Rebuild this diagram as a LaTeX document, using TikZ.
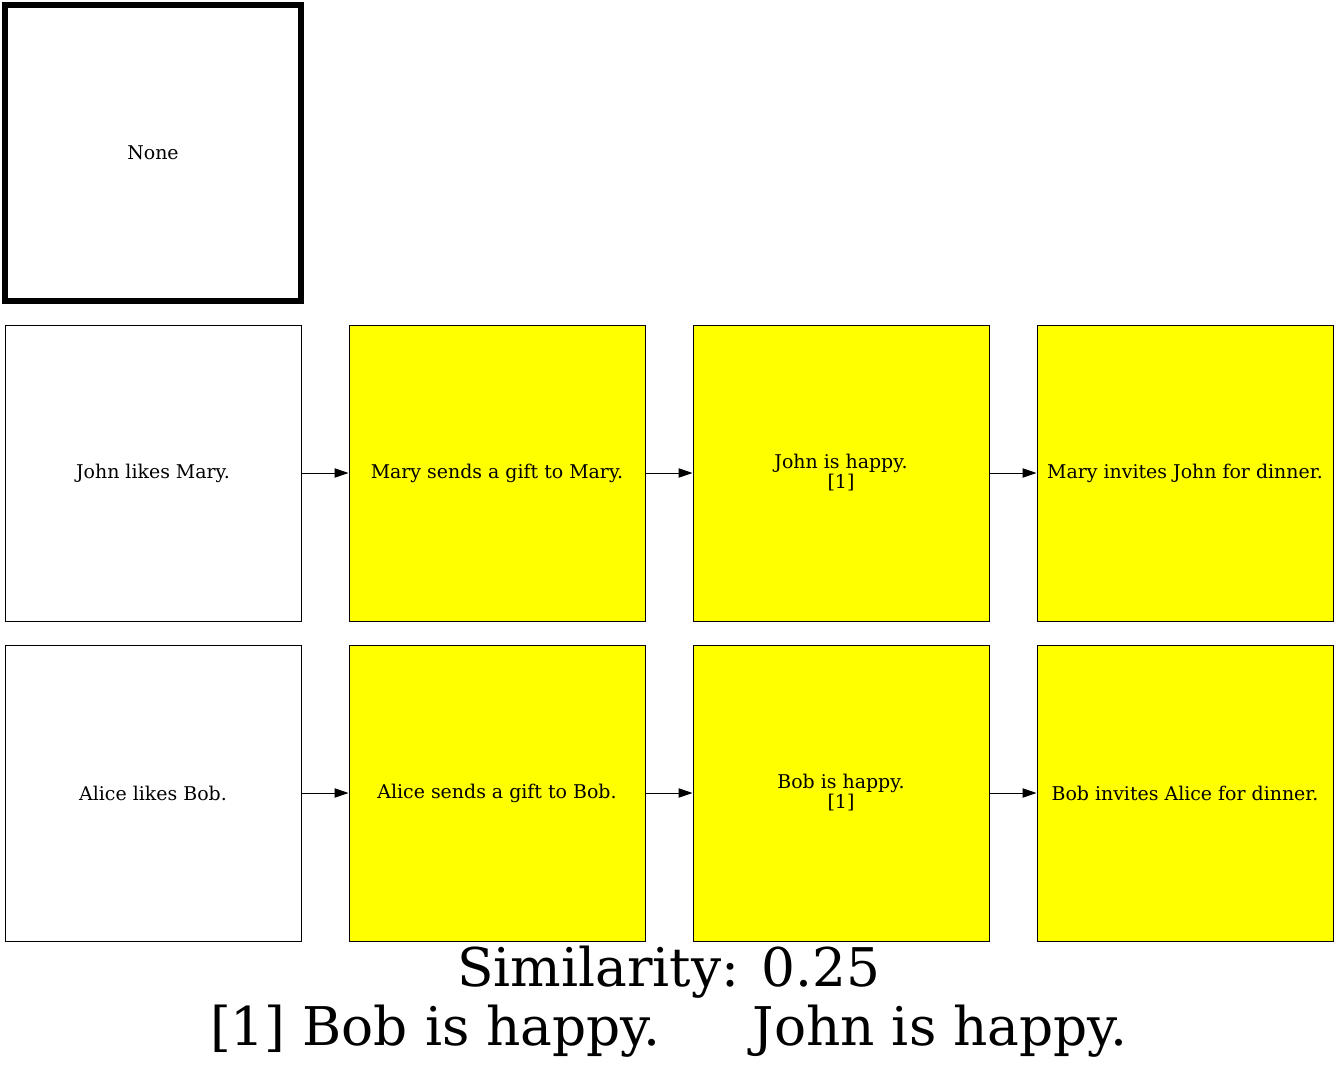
\documentclass[tikz,border=0pt]{standalone}
\usepackage{fontspec}
\setmainfont{DejaVu Serif}
\usetikzlibrary{arrows.meta}
\definecolor{gvyellow}{RGB}{255,255,0}
\begin{document}
\begin{tikzpicture}[x=0.75pt,y=-0.75pt]
		\tikzstyle{story}=[draw,line width=0.75pt,rectangle,minimum width=222pt,minimum height=222pt,inner sep=0pt,align=center,font=\fontsize{14.2}{15}\selectfont]
		\tikzstyle{changed}=[story,fill=gvyellow]
		\tikzstyle{link}=[line width=0.75pt,-{Triangle[length=10.5pt,width=7pt]}]
		\useasboundingbox (0,0) rectangle (1339,1075);

		\node[story,line width=4.5pt] (none) at (153,152.5) {None};

		\node[story] (1a) at (153,473) {John likes Mary.};
		\node[changed] (2a) at (497,473) {Mary sends a gift to Mary.};
		\node[changed] (3a) at (841,473) {John is happy.\\{}[1]};
		\node[changed] (4a) at (1185,473) {Mary invites John for dinner.};

		\node[story] (1b) at (153,793) {Alice likes Bob.};
		\node[changed] (2b) at (497,793) {Alice sends a gift to Bob.};
		\node[changed] (3b) at (841,793) {Bob is happy.\\{}[1]};
		\node[changed] (4b) at (1185,793) {Bob invites Alice for dinner.};

		\draw[link] (1a) -- (2a);
		\draw[link] (2a) -- (3a);
		\draw[link] (3a) -- (4a);
		\draw[link] (1b) -- (2b);
		\draw[link] (2b) -- (3b);
		\draw[link] (3b) -- (4b);

		\node[font=\fontsize{40}{44}\selectfont] (sim) at (669,972) {Similarity: 0.25};
		\node[font=\fontsize{40}{44}\selectfont] (key) at (669,1031) {[1] Bob is happy.\hspace{69pt}John is happy.};
	\end{tikzpicture}
\end{document}
